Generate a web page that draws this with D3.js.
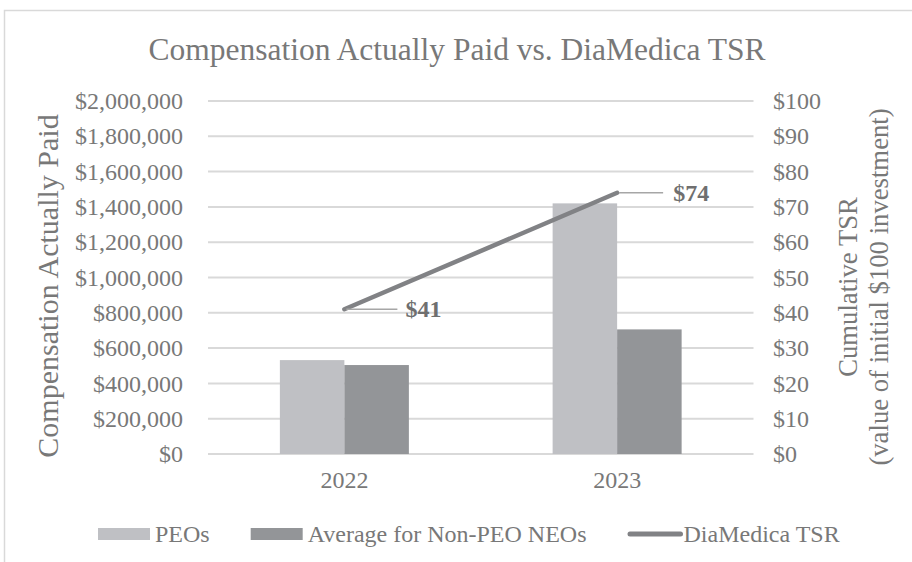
<!DOCTYPE html>
<html>
<head>
<meta charset="utf-8">
<script src="https://cdn.jsdelivr.net/npm/d3@7"></script>
<style>
  body { margin: 0; background: #fff; }
  text { font-family: "Liberation Serif", "Times New Roman", serif; fill: #787878; }
</style>
</head>
<body>
<div id="chart"></div>
<script>
// data
const years = ['2022', '2023'];
const peoCap = [532000, 1420000];
const nonPeoCap = [504000, 706000];
const tsr = [41, 74];
const seriesNames = ['PEOs', 'Average for Non-PEO NEOs', 'DiaMedica TSR'];
const leftTicks = [0, 200000, 400000, 600000, 800000, 1000000, 1200000, 1400000, 1600000, 1800000, 2000000];
const rightTicks = [0, 10, 20, 30, 40, 50, 60, 70, 80, 90, 100];

const W = 912, H = 562;
const plot = { left: 208, right: 753.5, top: 101, bottom: 454 };
const colors = { peo: '#bfc0c4', nonPeo: '#939598', line: '#818285', grid: '#d9d9d9', lead: '#a6a6a6' };

const svg = d3.select('#chart').append('svg')
  .attr('width', W)
  .attr('height', H);

// chart border
svg.append('rect')
  .attr('x', 4.5).attr('y', 10.5)
  .attr('width', W + 10).attr('height', H + 10)
  .attr('fill', 'none')
  .attr('stroke', '#d9d9d9')
  .attr('stroke-width', 1.5);

// scales
const x = d3.scaleBand()
  .domain(years)
  .range([plot.left, plot.right])
  .paddingInner(0.527)
  .paddingOuter(0.2635);

const xSub = d3.scaleBand()
  .domain(['peo', 'nonPeo'])
  .range([0, x.bandwidth()]);

const yL = d3.scaleLinear().domain([0, 2000000]).range([plot.bottom, plot.top]);
const yR = d3.scaleLinear().domain([0, 100]).range([plot.bottom, plot.top]);

// gridlines
svg.append('g')
  .selectAll('line')
  .data(leftTicks)
  .enter().append('line')
  .attr('x1', plot.left)
  .attr('x2', plot.right)
  .attr('y1', d => yL(d))
  .attr('y2', d => yL(d))
  .attr('stroke', colors.grid)
  .attr('stroke-width', 2);

// left axis
const axisL = svg.append('g')
  .attr('transform', `translate(${plot.left},0)`)
  .call(d3.axisLeft(yL).tickValues(leftTicks).tickFormat(d3.format('$,')).tickSize(0).tickPadding(25));
axisL.select('.domain').remove();
axisL.selectAll('text').style('font-size', '24px').attr('fill', '#787878');

// right axis
const axisR = svg.append('g')
  .attr('transform', `translate(${plot.right},0)`)
  .call(d3.axisRight(yR).tickValues(rightTicks).tickFormat(d => '$' + d).tickSize(0).tickPadding(19.5));
axisR.select('.domain').remove();
axisR.selectAll('text').style('font-size', '24px').attr('fill', '#787878');

// bottom axis
const axisB = svg.append('g')
  .attr('transform', `translate(0,${plot.bottom})`)
  .call(d3.axisBottom(x).tickSize(0).tickPadding(17));
axisB.select('.domain').remove();
axisB.selectAll('text').style('font-size', '24px').attr('fill', '#787878');

// bars
const bars = svg.append('g');
bars.selectAll('.peo')
  .data(years)
  .enter().append('rect')
  .attr('class', 'peo')
  .attr('x', d => x(d) + xSub('peo'))
  .attr('y', (d, i) => yL(peoCap[i]))
  .attr('width', xSub.bandwidth())
  .attr('height', (d, i) => yL(0) - yL(peoCap[i]))
  .attr('fill', colors.peo);

bars.selectAll('.nonpeo')
  .data(years)
  .enter().append('rect')
  .attr('class', 'nonpeo')
  .attr('x', d => x(d) + xSub('nonPeo'))
  .attr('y', (d, i) => yL(nonPeoCap[i]))
  .attr('width', xSub.bandwidth())
  .attr('height', (d, i) => yL(0) - yL(nonPeoCap[i]))
  .attr('fill', colors.nonPeo);

// TSR line
const cx = d => x(d) + x.bandwidth() / 2;
const line = d3.line()
  .x(d => cx(d))
  .y((d, i) => yR(tsr[i]));

svg.append('path')
  .datum(years)
  .attr('fill', 'none')
  .attr('stroke', colors.line)
  .attr('stroke-width', 4.5)
  .attr('stroke-linecap', 'round')
  .attr('d', line);

// data labels with leader lines
const labels = svg.append('g');
labels.selectAll('line')
  .data(years)
  .enter().append('line')
  .attr('x1', d => cx(d) + 2)
  .attr('x2', (d, i) => cx(d) + (i === 0 ? 53 : 46))
  .attr('y1', (d, i) => yR(tsr[i]))
  .attr('y2', (d, i) => yR(tsr[i]))
  .attr('stroke', colors.lead)
  .attr('stroke-width', 1.5);

labels.selectAll('text')
  .data(years)
  .enter().append('text')
  .attr('x', (d, i) => cx(d) + (i === 0 ? 61 : 56))
  .attr('y', (d, i) => yR(tsr[i]))
  .attr('dy', '0.33em')
  .style('font-size', '24px')
  .style('font-weight', 'bold')
  .style('fill', '#6f6f6f')
  .text((d, i) => '$' + tsr[i]);

// title
svg.append('text')
  .attr('x', 457)
  .attr('y', 60)
  .attr('text-anchor', 'middle')
  .style('font-size', '31.5px')
  .text('Compensation Actually Paid vs. DiaMedica TSR');

// axis titles
svg.append('text')
  .attr('transform', 'translate(58,286) rotate(-90)')
  .attr('text-anchor', 'middle')
  .style('font-size', '30px')
  .text('Compensation Actually Paid');

const rTitle = svg.append('text')
  .attr('transform', 'translate(857,287) rotate(-90)')
  .attr('text-anchor', 'middle')
  .style('font-size', '26.7px');
rTitle.append('tspan').attr('x', 0).attr('dy', 0).text('Cumulative TSR');
rTitle.append('tspan').attr('x', 0).attr('dy', '1.15em').text('(value of initial $100 investment)');

// legend
const legend = svg.append('g').attr('transform', 'translate(98,534)');
let lx = 0;
seriesNames.forEach((name, i) => {
  const g = legend.append('g').attr('transform', `translate(${lx},0)`);
  let tx;
  if (i < 2) {
    g.append('rect')
      .attr('x', 0).attr('y', -6)
      .attr('width', 52).attr('height', 12)
      .attr('fill', i === 0 ? colors.peo : colors.nonPeo);
    tx = 57;
  } else {
    g.append('line')
      .attr('x1', 2.5).attr('x2', 53)
      .attr('y1', 0).attr('y2', 0)
      .attr('stroke', colors.line)
      .attr('stroke-width', 5)
      .attr('stroke-linecap', 'round');
    tx = 56;
  }
  const t = g.append('text')
    .attr('x', tx)
    .attr('y', 0)
    .attr('dy', '0.33em')
    .style('font-size', '24px')
    .text(name);
  lx += tx + t.node().getComputedTextLength() + 41;
});
</script>
</body>
</html>
